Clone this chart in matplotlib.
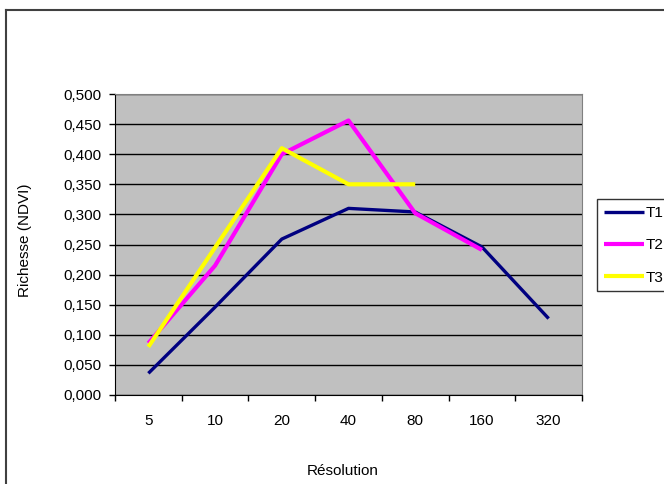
#!/usr/bin/env python3

import matplotlib
matplotlib.use("Agg")
import matplotlib.pyplot as plt
from matplotlib.lines import Line2D
from matplotlib.ticker import FuncFormatter

# data
resolution = ["5", "10", "20", "40", "80", "160", "320"]
t1 = [0.036, 0.146, 0.259, 0.310, 0.304, 0.246, 0.127]
t2 = [0.086, 0.215, 0.400, 0.456, 0.302, 0.241, None]
t3 = [0.080, 0.245, 0.410, 0.350, 0.350, None, None]

series = [("T1", t1, "#000080", 2.4),
          ("T2", t2, "#FF00FF", 3.0),
          ("T3", t3, "#FFFF00", 3.0)]

plt.rcParams["font.family"] = ["Liberation Sans", "DejaVu Sans"]
plt.rcParams["font.size"] = 11

W, H = 664, 484
fig = plt.figure(figsize=(W / 100, H / 100), dpi=100)
ax = fig.add_axes([115 / W, 1 - 395 / H, (582 - 115) / W, (395 - 94) / H])
ax.set_facecolor("#C0C0C0")

# outer chart border (only left and top visible in the crop)
fig.add_artist(Line2D([6 / W, 6 / W], [0, 1 - 10 / H], color="#404040", lw=1.5))
fig.add_artist(Line2D([6 / W, 1], [1 - 10 / H, 1 - 10 / H], color="#404040", lw=1.5))

x = list(range(len(resolution)))
for name, vals, col, lw in series:
    xs = [i for i, v in zip(x, vals) if v is not None]
    ys = [v for v in vals if v is not None]
    ax.plot(xs, ys, color=col, lw=lw, label=name, solid_capstyle="butt", zorder=3)

ax.set_xlim(-0.5, len(resolution) - 0.5)
ax.set_ylim(0, 0.5)

yt = [i * 0.05 for i in range(11)]
ax.set_yticks(yt)
ax.yaxis.set_major_formatter(FuncFormatter(lambda v, p: ("%.3f" % v).replace(".", ",")))
ax.grid(axis="y", color="black", lw=1.0, zorder=1)
ax.set_axisbelow(True)

ax.set_xticks([i - 0.5 for i in range(len(resolution) + 1)])
ax.set_xticklabels([])
ax.set_xticks(x, minor=True)
ax.set_xticklabels(resolution, minor=True)
ax.tick_params(axis="x", which="minor", length=0, pad=14)
ax.tick_params(axis="both", which="major", direction="out", length=4, width=1, color="black")
ax.tick_params(axis="y", pad=6)

for s in ["top", "right"]:
    ax.spines[s].set_color("#808080")
ax.spines["left"].set_color("black")
ax.spines["bottom"].set_color("black")

fig.text(25 / W, 1 - 240 / H, "Richesse (NDVI)", rotation=90, ha="center", va="center")
fig.text(343 / W, 1 - 471 / H, "Résolution", ha="center", va="center")

leg = fig.legend(loc="upper left", bbox_to_anchor=(597 / W, 1 - 199 / H),
                 frameon=True, fancybox=False, edgecolor="black",
                 handlelength=2.6, handletextpad=0.1, labelspacing=1.2,
                 borderpad=0.45, borderaxespad=0)
leg.get_frame().set_linewidth(1.0)

fig.savefig("out.png", dpi=100)
